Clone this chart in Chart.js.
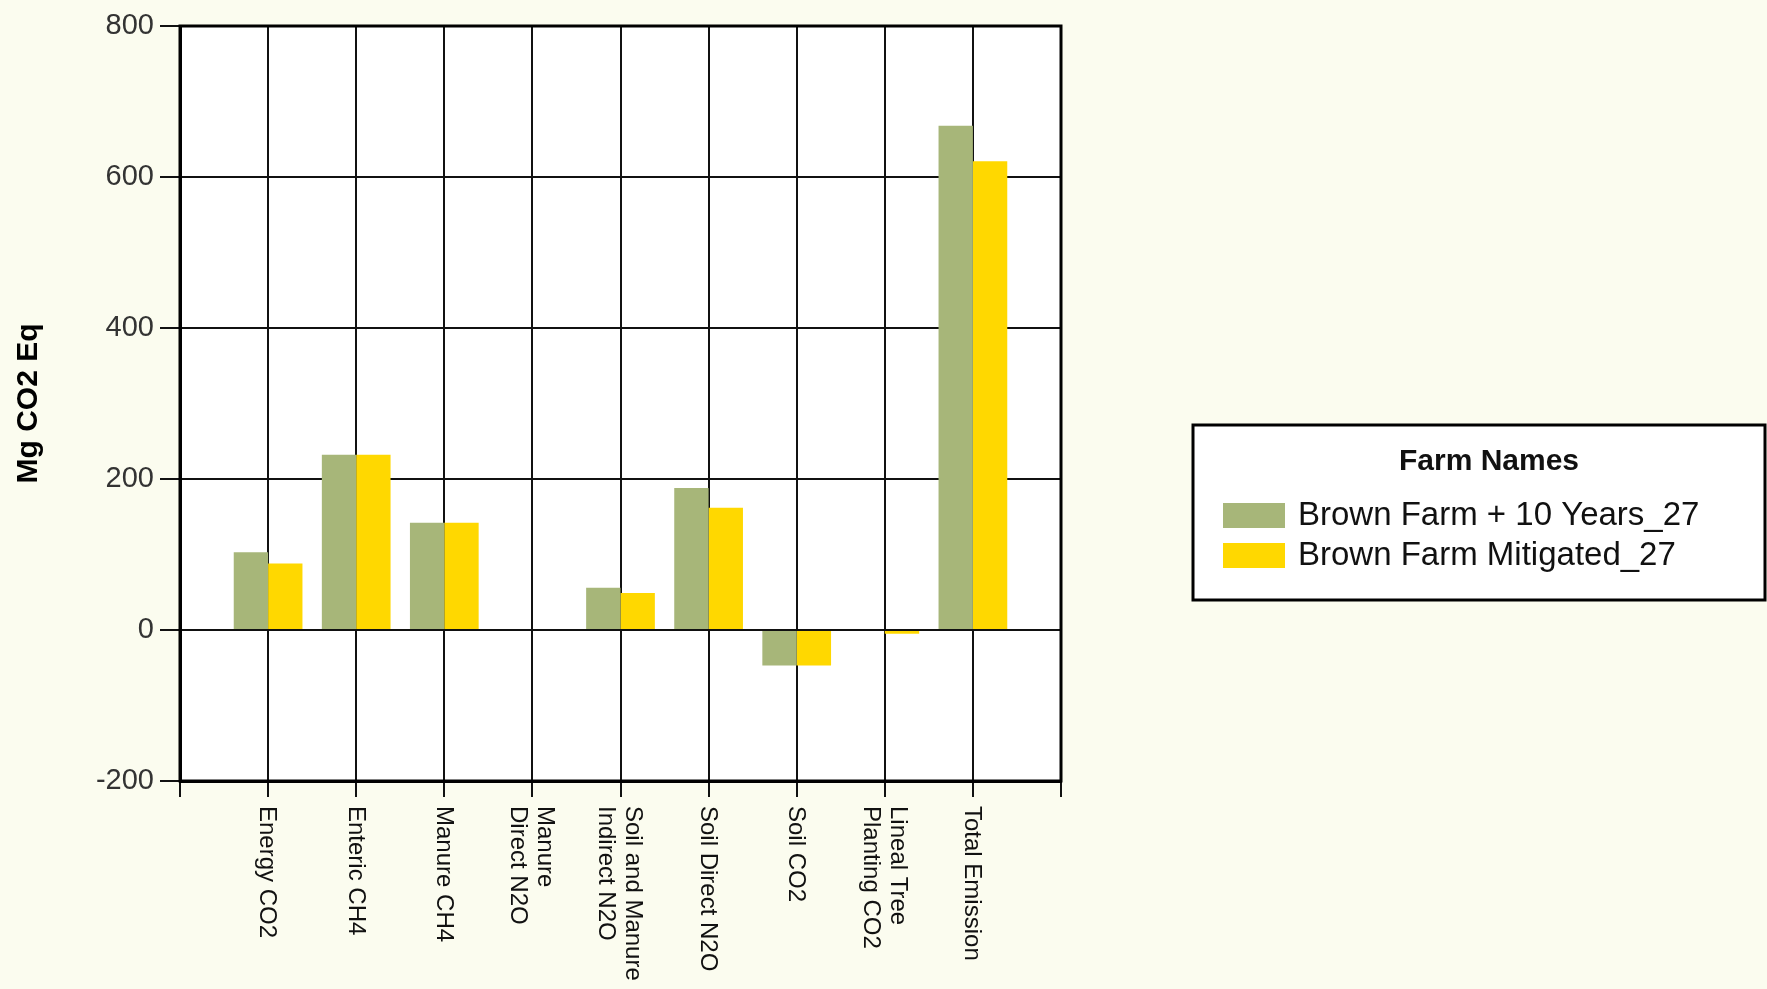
<!DOCTYPE html>
<html>
<head>
<meta charset="utf-8">
<title>Mg CO2 Eq by source</title>
<script src="https://cdn.jsdelivr.net/npm/chart.js@4.4.0/dist/chart.umd.min.js"></script>
<style>
  html, body { margin: 0; padding: 0; background: #fbfcef; }
  #wrap { width: 1767px; height: 989px; }
</style>
</head>
<body>
<div id="wrap"><canvas id="emissionChart" width="1767" height="989"></canvas></div>
<script>
// chart data
const categories = [
    'Energy CO2',
    'Enteric CH4',
    'Manure CH4',
    ['Manure', 'Direct N2O'],
    ['Soil and Manure', 'Indirect N2O'],
    'Soil Direct N2O',
    'Soil CO2',
    ['Lineal Tree', 'Planting CO2'],
    'Total Emission'
];
const seriesNames = ['Brown Farm + 10 Years_27', 'Brown Farm Mitigated_27'];
const tenYearValues = [103, 232, 142, 0, 56, 188, -47, 0, 668];
const mitigatedValues = [88, 232, 142, 0, 49, 162, -47, -5, 621];
const yTicks = [-200, 0, 200, 400, 600, 800];

const FONT = '"Liberation Sans", Arial, sans-serif';
const GREEN = '#a7b679';
const YELLOW = '#ffd800';

// the plot leaves one empty slot at each end, so pad the category list
const paddedLabels = [''].concat(categories.map(c => Array.isArray(c) ? c.join(' ') : c), ['']);
const pad = arr => [null].concat(arr, [null]);

// white plot area and heavy frame
const plotFrame = {
    id: 'plotFrame',
    beforeDraw(chart) {
        const a = chart.chartArea, ctx = chart.ctx;
        ctx.save();
        ctx.fillStyle = '#ffffff';
        ctx.fillRect(a.left, a.top, a.right - a.left, a.bottom - a.top);
        ctx.restore();
    },
    afterDraw(chart) {
        const a = chart.chartArea, ctx = chart.ctx;
        ctx.save();
        ctx.strokeStyle = '#000';
        ctx.lineWidth = 3;
        ctx.strokeRect(a.left, a.top, a.right - a.left, a.bottom - a.top);
        ctx.restore();
    }
};

// x labels read top to bottom (rotated clockwise)
const verticalLabels = {
    id: 'verticalLabels',
    afterDraw(chart) {
        const ctx = chart.ctx, xs = chart.scales.x;
        ctx.save();
        ctx.font = '24px ' + FONT;
        ctx.fillStyle = '#111';
        ctx.textAlign = 'left';
        ctx.textBaseline = 'middle';
        categories.forEach((label, i) => {
            const lines = Array.isArray(label) ? label : [label];
            ctx.save();
            ctx.translate(xs.getPixelForValue(i + 1) - 1, chart.chartArea.bottom + 25);
            ctx.rotate(Math.PI / 2);
            lines.forEach((t, j) => ctx.fillText(t, 0, (j - (lines.length - 1) / 2) * 27));
            ctx.restore();
        });
        ctx.restore();
    }
};

// boxed legend on the right
const boxLegend = {
    id: 'boxLegend',
    afterDraw(chart) {
        const ctx = chart.ctx;
        const bx = 1193, by = 425, bw = 572, bh = 175;
        ctx.save();
        ctx.fillStyle = '#ffffff';
        ctx.fillRect(bx, by, bw, bh);
        ctx.strokeStyle = '#000';
        ctx.lineWidth = 3;
        ctx.strokeRect(bx, by, bw, bh);

        ctx.fillStyle = '#111';
        ctx.font = 'bold 30px ' + FONT;
        ctx.textAlign = 'center';
        ctx.textBaseline = 'middle';
        ctx.fillText('Farm Names', 1489, 462);

        ctx.font = '33px ' + FONT;
        ctx.textAlign = 'left';
        chart.data.datasets.forEach((ds, i) => {
            const y = 515 + i * 40;
            ctx.fillStyle = ds.backgroundColor;
            ctx.fillRect(1223, y - 12, 62, 25);
            ctx.fillStyle = '#111';
            ctx.fillText(ds.label, 1298, y + 1);
        });
        ctx.restore();
    }
};

const ctx = document.getElementById('emissionChart').getContext('2d');
new Chart(ctx, {
    type: 'bar',
    data: {
        labels: paddedLabels,
        datasets: [{
            label: seriesNames[0],
            data: pad(tenYearValues),
            backgroundColor: GREEN,
            borderWidth: 0
        }, {
            label: seriesNames[1],
            data: pad(mitigatedValues),
            backgroundColor: YELLOW,
            borderWidth: 0
        }]
    },
    options: {
        responsive: false,
        animation: false,
        categoryPercentage: 0.78,
        barPercentage: 1.0,
        layout: { padding: { left: 0, top: 26, right: 706, bottom: 0 } },
        plugins: {
            legend: { display: false },
            tooltip: { enabled: false }
        },
        scales: {
            x: {
                offset: false,
                grid: { offset: false, color: '#111', lineWidth: 2, tickLength: 16, drawTicks: true },
                border: { display: true, color: '#000', width: 3 },
                ticks: { display: false },
                afterFit(scale) { scale.height = 208; }
            },
            y: {
                min: yTicks[0],
                max: yTicks[yTicks.length - 1],
                afterBuildTicks(scale) { scale.ticks = yTicks.map(v => ({ value: v })); },
                grid: { color: '#111', lineWidth: 2, tickLength: 20 },
                border: { display: true, color: '#000', width: 3 },
                ticks: {
                    color: '#333',
                    padding: 6,
                    font: { family: FONT, size: 29 }
                },
                title: {
                    display: true,
                    text: 'Mg CO2 Eq',
                    color: '#000',
                    font: { family: FONT, size: 30, weight: 'bold' },
                    padding: { top: 11, bottom: 4 }
                },
                afterFit(scale) { scale.width = 180; }
            }
        }
    },
    plugins: [plotFrame, verticalLabels, boxLegend]
});
</script>
</body>
</html>
